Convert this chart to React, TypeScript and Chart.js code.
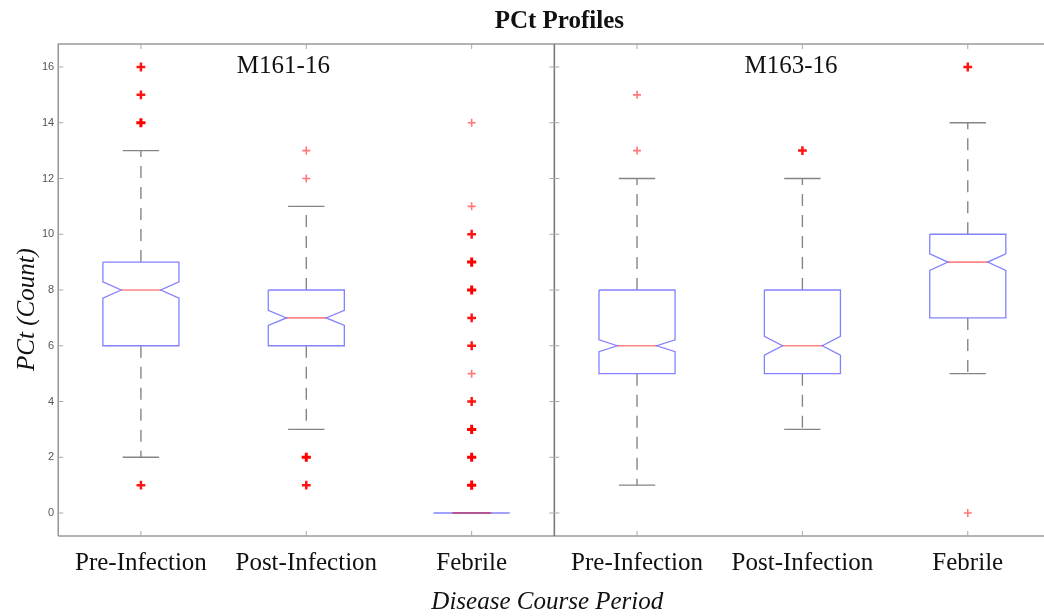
import React, { useEffect, useRef } from 'react';
import { Chart, registerables } from 'chart.js';

Chart.register(...registerables);

// ---- data ---------------------------------------------------------------
const periods = ['Pre-Infection', 'Post-Infection', 'Febrile'];
const animals = ['M161-16', 'M163-16'];

// M161-16 box statistics (per period)
const m161Q1 = [6, 6, 0];
const m161Median = [8, 7, 0];
const m161Q3 = [9, 8, 0];
const m161WhiskerLow = [2, 3, 0];
const m161WhiskerHigh = [13, 11, 0];
const m161NotchLow = [7.71, 6.73, 0];
const m161NotchHigh = [8.29, 7.27, 0];
const m161Outliers = [
  [16, 16, 15, 15, 14, 14, 14, 1, 1],
  [13, 12, 2, 2, 2, 1, 1],
  [14, 11, 10, 10, 9, 9, 9, 8, 8, 8, 7, 7, 6, 6, 5, 4, 4, 3, 3, 3, 2, 2, 2, 1, 1, 1],
];

// M163-16 box statistics (per period)
const m163Q1 = [5, 5, 7];
const m163Median = [6, 6, 9];
const m163Q3 = [8, 8, 10];
const m163WhiskerLow = [1, 3, 5];
const m163WhiskerHigh = [12, 12, 14];
const m163NotchLow = [5.79, 5.66, 8.7];
const m163NotchHigh = [6.21, 6.34, 9.3];
const m163Outliers = [
  [15, 13],
  [13, 13],
  [16, 16, 0],
];

const yTicks = [0, 2, 4, 6, 8, 10, 12, 14, 16];

// ---- styling ------------------------------------------------------------
const SERIF = "'Liberation Serif', 'Times New Roman', serif";
const SANS = "'Liberation Sans', Arial, sans-serif";
const BOX_COLOR = '#8282ff';
const MEDIAN_COLOR = 'rgba(255, 0, 0, 0.48)';
const WHISKER_COLOR = '#858585';
const FRAME_COLOR = '#9a9a9a';
const BOX_HALF = 0.23; // half box width in category units
const NOTCH_HALF = 0.12;
const CAP_HALF = 0.11;
const X_MIN = -0.5;
const X_MAX = 5.415;

type Stats = {
  q1: number[]; med: number[]; q3: number[];
  lo: number[]; hi: number[]; nLo: number[]; nHi: number[];
  out: number[][];
};

const groups: Stats[] = [
  { q1: m161Q1, med: m161Median, q3: m161Q3, lo: m161WhiskerLow, hi: m161WhiskerHigh, nLo: m161NotchLow, nHi: m161NotchHigh, out: m161Outliers },
  { q1: m163Q1, med: m163Median, q3: m163Q3, lo: m163WhiskerLow, hi: m163WhiskerHigh, nLo: m163NotchLow, nHi: m163NotchHigh, out: m163Outliers },
];

const tickLabels = animals.flatMap(() => periods);

function lineSet(points: { x: number; y: number }[], color: string, order: number, dash: number[] = [], width = 1.3) {
  return {
    type: 'scatter' as const,
    data: points,
    showLine: true,
    borderColor: color,
    borderWidth: width,
    borderDash: dash,
    pointRadius: 0,
    fill: false,
    tension: 0,
    order,
  };
}

function buildDatasets() {
  const sets: any[] = [];
  const outPts: { x: number; y: number }[] = [];
  const outColor: string[] = [];
  const outWidth: number[] = [];
  const outRadius: number[] = [];

  groups.forEach((g, gi) => {
    periods.forEach((_, pi) => {
      const xc = gi * periods.length + pi;
      const { q1, med, q3, lo, hi, nLo, nHi } = g;
      // whiskers
      sets.push(lineSet([{ x: xc, y: q3[pi] }, { x: xc, y: hi[pi] }], WHISKER_COLOR, 5, [12, 9], 1.4));
      sets.push(lineSet([{ x: xc, y: q1[pi] }, { x: xc, y: lo[pi] }], WHISKER_COLOR, 5, [12, 9], 1.4));
      sets.push(lineSet([{ x: xc - CAP_HALF, y: hi[pi] }, { x: xc + CAP_HALF, y: hi[pi] }], WHISKER_COLOR, 4, [], 1.4));
      sets.push(lineSet([{ x: xc - CAP_HALF, y: lo[pi] }, { x: xc + CAP_HALF, y: lo[pi] }], WHISKER_COLOR, 4, [], 1.4));
      // notched box outline
      sets.push(lineSet([
        { x: xc - BOX_HALF, y: q3[pi] },
        { x: xc - BOX_HALF, y: nHi[pi] },
        { x: xc - NOTCH_HALF, y: med[pi] },
        { x: xc - BOX_HALF, y: nLo[pi] },
        { x: xc - BOX_HALF, y: q1[pi] },
        { x: xc + BOX_HALF, y: q1[pi] },
        { x: xc + BOX_HALF, y: nLo[pi] },
        { x: xc + NOTCH_HALF, y: med[pi] },
        { x: xc + BOX_HALF, y: nHi[pi] },
        { x: xc + BOX_HALF, y: q3[pi] },
        { x: xc - BOX_HALF, y: q3[pi] },
      ], BOX_COLOR, 3, [], 1.3));
      // median
      sets.push(lineSet([{ x: xc - NOTCH_HALF, y: med[pi] }, { x: xc + NOTCH_HALF, y: med[pi] }], MEDIAN_COLOR, 2, [], 1.6));

      // outliers: repeated values are drawn heavier
      const counts = new Map<number, number>();
      g.out[pi].forEach((v) => counts.set(v, (counts.get(v) || 0) + 1));
      counts.forEach((n, v) => {
        outPts.push({ x: xc, y: v });
        if (n >= 3) { outColor.push('#ff0000'); outWidth.push(3); outRadius.push(4.6); }
        else if (n === 2) { outColor.push('rgba(255,0,0,0.92)'); outWidth.push(2.5); outRadius.push(4.4); }
        else { outColor.push('rgba(255,30,30,0.6)'); outWidth.push(1.6); outRadius.push(4); }
      });
    });
  });

  sets.push({
    type: 'scatter' as const,
    data: outPts,
    showLine: false,
    pointStyle: 'cross',
    pointRadius: outRadius,
    pointBorderWidth: outWidth,
    pointBorderColor: outColor,
    pointBackgroundColor: outColor,
    order: 1,
  });
  return sets;
}

// axes frame, inward tick marks, panel divider, titles and panel names
const framePlugin = {
  id: 'matlabFrame',
  afterDatasetsDraw(chart: any) {
    const { ctx, chartArea: a, scales } = chart;
    const x = scales.x;
    const y = scales.y;
    const right = chart.width;
    const xd = x.getPixelForValue(periods.length - 0.5);
    ctx.save();
    ctx.strokeStyle = FRAME_COLOR;
    ctx.lineWidth = 1.6;
    ctx.beginPath();
    ctx.moveTo(a.left, a.bottom);
    ctx.lineTo(a.left, a.top);
    ctx.lineTo(right, a.top);
    ctx.moveTo(a.left, a.bottom);
    ctx.lineTo(right, a.bottom);
    ctx.stroke();
    ctx.strokeStyle = '#7a7a7a';
    ctx.beginPath();
    ctx.moveTo(xd, a.top);
    ctx.lineTo(xd, a.bottom);
    ctx.stroke();

    ctx.strokeStyle = '#a8a8a8';
    ctx.lineWidth = 1;
    ctx.beginPath();
    yTicks.forEach((v) => {
      const py = y.getPixelForValue(v);
      ctx.moveTo(a.left, py);
      ctx.lineTo(a.left + 5, py);
      ctx.moveTo(xd - 5, py);
      ctx.lineTo(xd + 5, py);
    });
    tickLabels.forEach((_, i) => {
      const px = x.getPixelForValue(i);
      ctx.moveTo(px, a.top);
      ctx.lineTo(px, a.top + 5);
      ctx.moveTo(px, a.bottom);
      ctx.lineTo(px, a.bottom - 5);
    });
    ctx.stroke();

    ctx.fillStyle = '#111';
    ctx.textBaseline = 'alphabetic';
    ctx.textAlign = 'center';
    ctx.font = `bold 25px ${SERIF}`;
    ctx.fillText('PCt Profiles', xd + 5, 28);

    // y-axis label
    ctx.save();
    ctx.translate(27, y.getPixelForValue(7.3));
    ctx.rotate(-Math.PI / 2);
    ctx.textBaseline = 'middle';
    ctx.font = `italic 25px ${SERIF}`;
    ctx.fillText('PCt (Count)', 0, 0);
    ctx.restore();

    ctx.textAlign = 'left';
    ctx.font = `25px ${SERIF}`;
    const labelAnchors = [0.58, 3.65];
    animals.forEach((name, i) => {
      ctx.fillText(name, x.getPixelForValue(labelAnchors[i]), y.getPixelForValue(15.8));
    });
    ctx.restore();
  },
};

export default function App() {
  const canvasRef = useRef<HTMLCanvasElement | null>(null);

  useEffect(() => {
    if (!canvasRef.current) return;
    const chart = new Chart(canvasRef.current, {
      type: 'scatter',
      data: { datasets: buildDatasets() },
      options: {
        animation: false,
        responsive: false,
        events: [],
        layout: { padding: { top: 44, left: 38, right: 0, bottom: 0 } },
        plugins: {
          legend: { display: false },
          tooltip: { enabled: false },
          title: { display: false },
        },
        scales: {
          x: {
            type: 'linear',
            min: X_MIN,
            max: X_MAX,
            grid: { display: false, drawTicks: false },
            border: { display: false },
            afterBuildTicks: (scale: any) => {
              scale.ticks = tickLabels.map((_, i) => ({ value: i }));
            },
            ticks: {
              autoSkip: false,
              maxRotation: 0,
              padding: 14.5,
              color: '#111',
              font: { family: SERIF, size: 25, lineHeight: 1 },
              callback: (v: any) => tickLabels[Math.round(Number(v))] ?? '',
            },
            title: {
              display: true,
              text: 'Disease Course Period',
              color: '#111',
              font: { family: SERIF, size: 25, style: 'italic', lineHeight: 1 },
              padding: { top: 0, bottom: 1 },
            },
          },
          y: {
            type: 'linear',
            min: -0.825,
            max: 16.825,
            grid: { display: false, drawTicks: false },
            border: { display: false },
            afterBuildTicks: (scale: any) => {
              scale.ticks = yTicks.map((v) => ({ value: v }));
            },
            ticks: {
              padding: 4,
              color: '#555',
              font: { family: SANS, size: 11 },
              callback: (v: any) => String(v),
            },
          },
        },
      } as any,
      plugins: [framePlugin],
    });
    return () => chart.destroy();
  }, []);

  return (
    <div style={{ position: 'fixed', left: 0, top: 0, width: 1044, height: 616, background: '#fff', overflow: 'hidden' }}>
      <canvas ref={canvasRef} width={1044} height={616} style={{ display: 'block' }} />
    </div>
  );
}
